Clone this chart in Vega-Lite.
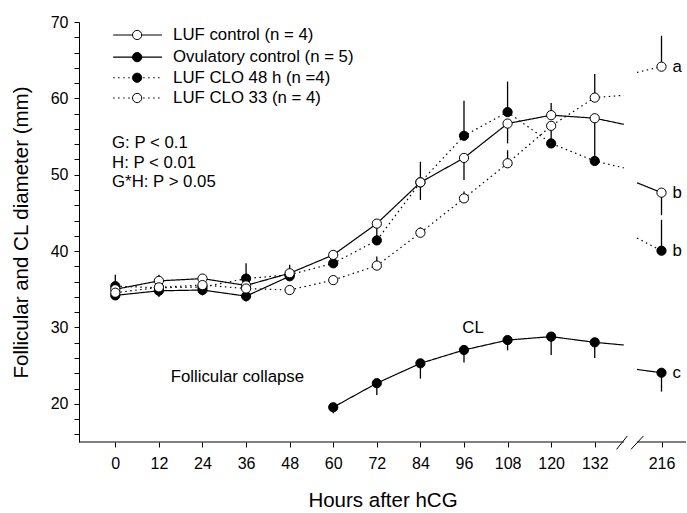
{
  "$schema": "https://vega.github.io/schema/vega-lite/v6.json",
  "autosize": "none",
  "width": 608,
  "height": 420,
  "padding": {"left": 79, "top": 22, "right": 0, "bottom": 71},
  "config": {
    "view": {"stroke": null},
    "font": "Liberation Sans",
    "axis": {
      "domainColor": "black", "tickColor": "black", "labelColor": "black", "titleColor": "black",
      "titleFontWeight": "normal", "grid": false, "labelFont": "Liberation Sans", "titleFont": "Liberation Sans",
      "labelFontSize": 16, "titleFontSize": 20.5, "tickSize": 5, "domainWidth": 1, "tickWidth": 1,
      "labelOverlap": false, "labelFlush": false
    }
  },
  "datasets": {
    "obs": [
      {"series": "Ovulatory control (n = 5)", "part": "follicle", "seg": "pre", "hour": 0, "mm": 34.2},
      {"series": "Ovulatory control (n = 5)", "part": "follicle", "seg": "pre", "hour": 12, "mm": 34.8, "err": 34.0},
      {"series": "Ovulatory control (n = 5)", "part": "follicle", "seg": "pre", "hour": 24, "mm": 34.9, "err": 34.2},
      {"series": "Ovulatory control (n = 5)", "part": "follicle", "seg": "pre", "hour": 36, "mm": 34.1, "err": 33.4},
      {"series": "Ovulatory control (n = 5)", "part": "follicle", "seg": "pre", "hour": 48, "mm": 36.7},
      {"series": "Ovulatory control (n = 5)", "part": "CL", "seg": "pre", "hour": 60, "mm": 19.55, "err": 18.75},
      {"series": "Ovulatory control (n = 5)", "part": "CL", "seg": "pre", "hour": 72, "mm": 22.7, "err": 21.15},
      {"series": "Ovulatory control (n = 5)", "part": "CL", "seg": "pre", "hour": 84, "mm": 25.3, "err": 23.3},
      {"series": "Ovulatory control (n = 5)", "part": "CL", "seg": "pre", "hour": 96, "mm": 27.05, "err": 25.4},
      {"series": "Ovulatory control (n = 5)", "part": "CL", "seg": "pre", "hour": 108, "mm": 28.35, "err": 27.0},
      {"series": "Ovulatory control (n = 5)", "part": "CL", "seg": "pre", "hour": 120, "mm": 28.8, "err": 26.4},
      {"series": "Ovulatory control (n = 5)", "part": "CL", "seg": "pre", "hour": 132, "mm": 28.05, "err": 26.0},
      {"series": "Ovulatory control (n = 5)", "part": "CL", "seg": "pre", "hour": 140, "mm": 27.7, "stub": true},
      {"series": "Ovulatory control (n = 5)", "part": "CL", "seg": "post", "hour": 204, "mm": 24.5, "stub": true},
      {"series": "Ovulatory control (n = 5)", "part": "CL", "seg": "post", "hour": 216, "mm": 24.07, "err": 21.6},

      {"series": "LUF CLO 48 h (n =4)", "part": "follicle", "seg": "pre", "hour": 0, "mm": 35.4, "err": 36.9},
      {"series": "LUF CLO 48 h (n =4)", "part": "follicle", "seg": "pre", "hour": 12, "mm": 35.2},
      {"series": "LUF CLO 48 h (n =4)", "part": "follicle", "seg": "pre", "hour": 24, "mm": 35.3},
      {"series": "LUF CLO 48 h (n =4)", "part": "follicle", "seg": "pre", "hour": 36, "mm": 36.4, "err": 38.4},
      {"series": "LUF CLO 48 h (n =4)", "part": "follicle", "seg": "pre", "hour": 48, "mm": 36.9},
      {"series": "LUF CLO 48 h (n =4)", "part": "follicle", "seg": "pre", "hour": 60, "mm": 38.4},
      {"series": "LUF CLO 48 h (n =4)", "part": "follicle", "seg": "pre", "hour": 72, "mm": 41.4, "err": 43.05},
      {"series": "LUF CLO 48 h (n =4)", "part": "follicle", "seg": "pre", "hour": 84, "mm": 49.0, "err": 51.7},
      {"series": "LUF CLO 48 h (n =4)", "part": "follicle", "seg": "pre", "hour": 96, "mm": 55.1, "err": 59.7},
      {"series": "LUF CLO 48 h (n =4)", "part": "follicle", "seg": "pre", "hour": 108, "mm": 58.2, "err": 62.2},
      {"series": "LUF CLO 48 h (n =4)", "part": "follicle", "seg": "pre", "hour": 120, "mm": 54.1, "err": 56.5},
      {"series": "LUF CLO 48 h (n =4)", "part": "follicle", "seg": "pre", "hour": 132, "mm": 51.8},
      {"series": "LUF CLO 48 h (n =4)", "part": "follicle", "seg": "pre", "hour": 140, "mm": 50.9, "stub": true},
      {"series": "LUF CLO 48 h (n =4)", "part": "follicle", "seg": "post", "hour": 204, "mm": 41.7, "stub": true},
      {"series": "LUF CLO 48 h (n =4)", "part": "follicle", "seg": "post", "hour": 216, "mm": 40.05, "err": 44.1},

      {"series": "LUF control (n = 4)", "part": "follicle", "seg": "pre", "hour": 0, "mm": 35.0},
      {"series": "LUF control (n = 4)", "part": "follicle", "seg": "pre", "hour": 12, "mm": 36.1, "err": 36.9},
      {"series": "LUF control (n = 4)", "part": "follicle", "seg": "pre", "hour": 24, "mm": 36.4, "err": 36.8},
      {"series": "LUF control (n = 4)", "part": "follicle", "seg": "pre", "hour": 36, "mm": 35.5},
      {"series": "LUF control (n = 4)", "part": "follicle", "seg": "pre", "hour": 48, "mm": 37.1, "err": 38.2},
      {"series": "LUF control (n = 4)", "part": "follicle", "seg": "pre", "hour": 60, "mm": 39.5, "err": 40.0},
      {"series": "LUF control (n = 4)", "part": "follicle", "seg": "pre", "hour": 72, "mm": 43.6},
      {"series": "LUF control (n = 4)", "part": "follicle", "seg": "pre", "hour": 84, "mm": 49.0, "err": 46.7},
      {"series": "LUF control (n = 4)", "part": "follicle", "seg": "pre", "hour": 96, "mm": 52.2, "err": 49.3},
      {"series": "LUF control (n = 4)", "part": "follicle", "seg": "pre", "hour": 108, "mm": 56.7, "err": 54.1},
      {"series": "LUF control (n = 4)", "part": "follicle", "seg": "pre", "hour": 120, "mm": 57.8, "err": 59.4},
      {"series": "LUF control (n = 4)", "part": "follicle", "seg": "pre", "hour": 132, "mm": 57.4, "err": 51.9},
      {"series": "LUF control (n = 4)", "part": "follicle", "seg": "pre", "hour": 140, "mm": 56.6, "stub": true},
      {"series": "LUF control (n = 4)", "part": "follicle", "seg": "post", "hour": 204, "mm": 48.95, "stub": true},
      {"series": "LUF control (n = 4)", "part": "follicle", "seg": "post", "hour": 216, "mm": 47.65, "err": 44.7},

      {"series": "LUF CLO 33 (n = 4)", "part": "follicle", "seg": "pre", "hour": 0, "mm": 34.55},
      {"series": "LUF CLO 33 (n = 4)", "part": "follicle", "seg": "pre", "hour": 12, "mm": 35.25},
      {"series": "LUF CLO 33 (n = 4)", "part": "follicle", "seg": "pre", "hour": 24, "mm": 35.55},
      {"series": "LUF CLO 33 (n = 4)", "part": "follicle", "seg": "pre", "hour": 36, "mm": 35.1},
      {"series": "LUF CLO 33 (n = 4)", "part": "follicle", "seg": "pre", "hour": 48, "mm": 34.9},
      {"series": "LUF CLO 33 (n = 4)", "part": "follicle", "seg": "pre", "hour": 60, "mm": 36.2},
      {"series": "LUF CLO 33 (n = 4)", "part": "follicle", "seg": "pre", "hour": 72, "mm": 38.1, "err": 39.3},
      {"series": "LUF CLO 33 (n = 4)", "part": "follicle", "seg": "pre", "hour": 84, "mm": 42.4, "err": 43.1},
      {"series": "LUF CLO 33 (n = 4)", "part": "follicle", "seg": "pre", "hour": 96, "mm": 46.9, "err": 47.8},
      {"series": "LUF CLO 33 (n = 4)", "part": "follicle", "seg": "pre", "hour": 108, "mm": 51.5, "err": 53.2},
      {"series": "LUF CLO 33 (n = 4)", "part": "follicle", "seg": "pre", "hour": 120, "mm": 56.4},
      {"series": "LUF CLO 33 (n = 4)", "part": "follicle", "seg": "pre", "hour": 132, "mm": 60.1, "err": 63.2},
      {"series": "LUF CLO 33 (n = 4)", "part": "follicle", "seg": "pre", "hour": 140, "mm": 60.4, "stub": true},
      {"series": "LUF CLO 33 (n = 4)", "part": "follicle", "seg": "post", "hour": 204, "mm": 63.4, "stub": true},
      {"series": "LUF CLO 33 (n = 4)", "part": "follicle", "seg": "post", "hour": 216, "mm": 64.15, "err": 68.2}
    ],
    "legend": [
      {"series": "LUF control (n = 4)", "ly": 68.3},
      {"series": "Ovulatory control (n = 5)", "ly": 65.4},
      {"series": "LUF CLO 48 h (n =4)", "ly": 62.7},
      {"series": "LUF CLO 33 (n = 4)", "ly": 60.05}
    ],
    "notes": [
      {"text": "G: P < 0.1", "hour": -0.9, "mm": 54.15},
      {"text": "H: P < 0.01", "hour": -0.9, "mm": 51.5},
      {"text": "G*H: P > 0.05", "hour": -0.9, "mm": 49.05}
    ],
    "centered": [
      {"text": "Follicular collapse", "hour": 33.6, "mm": 23.5},
      {"text": "CL", "hour": 98.5, "mm": 29.9}
    ],
    "letters": [
      {"text": "a", "hour": 216, "mm": 64.15},
      {"text": "b", "hour": 216, "mm": 47.65},
      {"text": "b", "hour": 216, "mm": 40.05},
      {"text": "c", "hour": 216, "mm": 24.07}
    ]
  },
  "encoding": {
    "x": {
      "type": "quantitative",
      "scale": {"domain": [-10, 140, 204, 228], "range": [0, 544.8, 558, 607], "nice": false, "zero": false},
      "axis": {
        "title": "Hours after hCG",
        "values": [0, 12, 24, 36, 48, 60, 72, 84, 96, 108, 120, 132, 216],
        "domain": false, "labelPadding": 8, "titlePadding": 19
      }
    },
    "y": {
      "type": "quantitative",
      "scale": {"domain": [15, 70], "nice": false, "zero": false},
      "axis": {
        "title": "Follicular and CL diameter (mm)",
        "values": [16, 18, 20, 22, 24, 26, 28, 30, 32, 34, 36, 38, 40, 42, 44, 46, 48, 50, 52, 54, 56, 58, 60, 62, 64, 66, 68, 70],
        "labelExpr": "datum.value % 10 === 0 ? datum.label : ''",
        "labelPadding": 6, "titlePadding": 19
      }
    }
  },
  "layer": [
    {
      "data": {"values": [{}]},
      "mark": {"type": "rule", "color": "black", "strokeWidth": 1},
      "encoding": {"x": {"datum": -10}, "x2": {"datum": 140}, "y": {"datum": 15}}
    },
    {
      "data": {"values": [{}]},
      "mark": {"type": "rule", "color": "black", "strokeWidth": 1},
      "encoding": {"x": {"datum": 204}, "x2": {"datum": 228}, "y": {"datum": 15}}
    },
    {
      "data": {"values": [{}]},
      "mark": {"type": "rule", "color": "black", "strokeWidth": 1},
      "encoding": {"x": {"datum": 138.0}, "x2": {"datum": 157}, "y": {"datum": 14.04}, "y2": {"datum": 15.78}}
    },
    {
      "data": {"values": [{}]},
      "mark": {"type": "rule", "color": "black", "strokeWidth": 1},
      "encoding": {"x": {"datum": 175}, "x2": {"datum": 207.1}, "y": {"datum": 14.04}, "y2": {"datum": 15.78}}
    },
    {
      "data": {"name": "obs"},
      "mark": {"type": "line", "color": "black", "strokeWidth": 1.2},
      "encoding": {
        "x": {"field": "hour", "type": "quantitative"},
        "y": {"field": "mm", "type": "quantitative"},
        "detail": [{"field": "series"}, {"field": "part"}, {"field": "seg"}],
        "strokeDash": {
          "field": "series", "type": "nominal",
          "scale": {
            "domain": ["LUF control (n = 4)", "Ovulatory control (n = 5)", "LUF CLO 48 h (n =4)", "LUF CLO 33 (n = 4)"],
            "range": [[1, 0], [1, 0], [1.5, 3.5], [1.5, 3.5]]
          },
          "legend": null
        },
        "order": {"field": "hour", "type": "quantitative"}
      }
    },
    {
      "data": {"name": "obs"},
      "transform": [{"filter": "isValid(datum.err)"}],
      "mark": {"type": "rule", "color": "black", "strokeWidth": 1.3},
      "encoding": {
        "x": {"field": "hour", "type": "quantitative"},
        "y": {"field": "mm", "type": "quantitative"},
        "y2": {"field": "err"}
      }
    },
    {
      "data": {"name": "obs"},
      "transform": [{"filter": "datum.stub !== true"}],
      "mark": {"type": "point", "shape": "circle", "filled": true, "stroke": "black", "strokeWidth": 1, "size": 85, "opacity": 1},
      "encoding": {
        "x": {"field": "hour", "type": "quantitative"},
        "y": {"field": "mm", "type": "quantitative"},
        "fill": {
          "field": "series", "type": "nominal",
          "scale": {
            "domain": ["LUF control (n = 4)", "Ovulatory control (n = 5)", "LUF CLO 48 h (n =4)", "LUF CLO 33 (n = 4)"],
            "range": ["white", "black", "black", "white"]
          },
          "legend": null
        }
      }
    },
    {
      "data": {"name": "legend"},
      "mark": {"type": "rule", "color": "black", "strokeWidth": 1.2},
      "encoding": {
        "x": {"datum": -0.6},
        "x2": {"datum": 12.85},
        "y": {"field": "ly", "type": "quantitative"},
        "strokeDash": {"field": "series", "type": "nominal", "legend": null}
      }
    },
    {
      "data": {"name": "legend"},
      "mark": {"type": "point", "shape": "circle", "filled": true, "stroke": "black", "strokeWidth": 1, "size": 85, "opacity": 1},
      "encoding": {
        "x": {"datum": 6},
        "y": {"field": "ly", "type": "quantitative"},
        "fill": {"field": "series", "type": "nominal", "legend": null}
      }
    },
    {
      "data": {"name": "legend"},
      "mark": {"type": "text", "align": "left", "baseline": "middle", "fontSize": 16.8, "font": "Liberation Sans", "color": "black"},
      "encoding": {
        "x": {"datum": 15.9},
        "y": {"field": "ly", "type": "quantitative"},
        "text": {"field": "series"}
      }
    },
    {
      "data": {"name": "notes"},
      "mark": {"type": "text", "align": "left", "baseline": "middle", "fontSize": 16.8, "font": "Liberation Sans", "color": "black"},
      "encoding": {
        "x": {"field": "hour", "type": "quantitative"},
        "y": {"field": "mm", "type": "quantitative"},
        "text": {"field": "text"}
      }
    },
    {
      "data": {"name": "centered"},
      "mark": {"type": "text", "align": "center", "baseline": "middle", "fontSize": 16.8, "font": "Liberation Sans", "color": "black"},
      "encoding": {
        "x": {"field": "hour", "type": "quantitative"},
        "y": {"field": "mm", "type": "quantitative"},
        "text": {"field": "text"}
      }
    },
    {
      "data": {"name": "letters"},
      "mark": {"type": "text", "align": "left", "baseline": "middle", "dx": 11, "fontSize": 16.8, "font": "Liberation Sans", "color": "black"},
      "encoding": {
        "x": {"field": "hour", "type": "quantitative"},
        "y": {"field": "mm", "type": "quantitative"},
        "text": {"field": "text"}
      }
    }
  ]
}
